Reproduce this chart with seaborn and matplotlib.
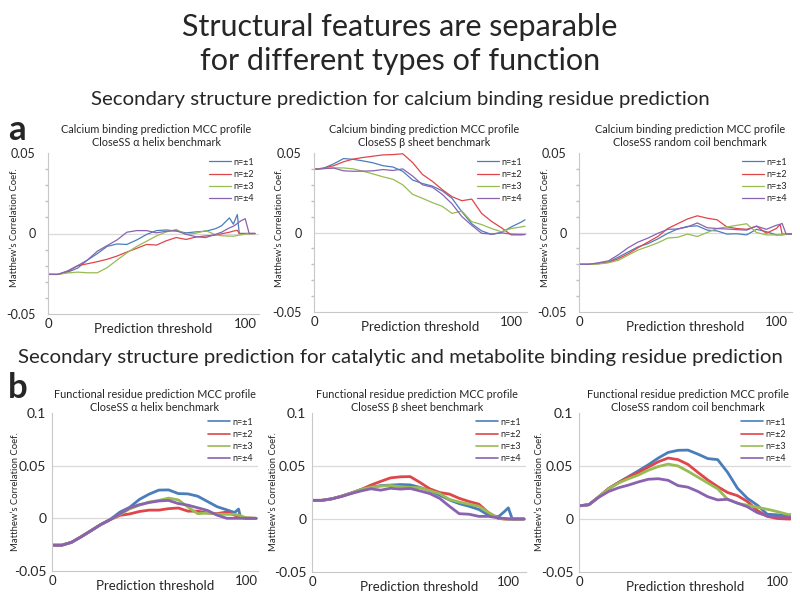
import matplotlib
matplotlib.use("Agg")
import matplotlib.pyplot as plt
import numpy as np
import pandas as pd
import seaborn as sns

sns.set_theme(style="white")
plt.rcParams["font.family"] = ["Lato", "DejaVu Sans"]

SERIES = ["n=±1", "n=±2", "n=±3", "n=±4"]
COLORS = ["#4a7ebb", "#e0454a", "#98bb52", "#8a62b0"]

# ---- row a: calcium binding ----
A1_X = [0, 5, 10, 15, 20, 25, 30, 35, 40, 45, 50, 55, 60, 65, 70, 75, 80, 85, 88, 92, 94, 96, 97, 98, 100, 102, 105]
A1_N1 = [-0.0254, -0.0254, -0.0240, -0.0215, -0.0165, -0.0125, -0.0080, -0.0065, -0.0068, -0.0040, -0.0006, 0.0018, 0.0022,
         0.0015, 0.0004, 0.0010, 0.0014, 0.0030, 0.0048, 0.0097, 0.0058, 0.0118, 0.0, 0.0, 0.0, 0.0, 0.0]
A1_N2 = [-0.0254, -0.0254, -0.0235, -0.0200, -0.0188, -0.0175, -0.0160, -0.0140, -0.0115, -0.0092, -0.0068, -0.0072, -0.0045,
         -0.0025, -0.0037, -0.0022, -0.0015, -0.0010, -0.0002, 0.0008, 0.0015, 0.0020, 0.0, 0.0, 0.0, 0.0, 0.0]
A1_N3 = [-0.0254, -0.0254, -0.0245, -0.0240, -0.0244, -0.0244, -0.0212, -0.0165, -0.0120, -0.0080, -0.0048, -0.0015, 0.0010,
         0.0025, -0.0005, 0.0002, 0.0018, -0.0008, -0.0014, -0.0016, -0.0017, -0.0012, -0.0010, -0.0008, -0.0004, -0.0002, 0.0]
A1_N4 = [-0.0254, -0.0254, -0.0232, -0.0200, -0.0165, -0.0110, -0.0075, -0.0040, 0.0008, 0.0018, 0.0018, 0.0004, 0.0014,
         0.0018, -0.0005, -0.0020, -0.0025, -0.0005, 0.0008, 0.0035, 0.0045, 0.0062, 0.0072, 0.0080, 0.0092, 0.0, 0.0]

A2_X = [0, 5, 10, 15, 20, 25, 30, 35, 40, 45, 50, 55, 60, 65, 70, 75, 80, 85, 90, 95, 100, 105, 107]
A2_N1 = [0.0397, 0.0405, 0.0432, 0.0465, 0.0460, 0.0450, 0.0438, 0.0420, 0.0412, 0.0385, 0.0330, 0.0308, 0.0292, 0.0262,
         0.0215, 0.0130, 0.0055, 0.0010, -0.0012, 0.0000, 0.0035, 0.0065, 0.0080]
A2_N2 = [0.0397, 0.0405, 0.0420, 0.0445, 0.0462, 0.0472, 0.0480, 0.0488, 0.0490, 0.0495, 0.0440, 0.0365, 0.0322, 0.0270,
         0.0225, 0.0200, 0.0210, 0.0120, 0.0070, 0.0030, -0.0015, -0.0015, -0.0013]
A2_N3 = [0.0397, 0.0402, 0.0407, 0.0406, 0.0400, 0.0385, 0.0368, 0.0350, 0.0335, 0.0300, 0.0240, 0.0215, 0.0188, 0.0165,
         0.0120, 0.0135, 0.0068, 0.0050, 0.0025, 0.0005, 0.0025, 0.0035, 0.0040]
A2_N4 = [0.0397, 0.0402, 0.0405, 0.0388, 0.0385, 0.0386, 0.0388, 0.0396, 0.0390, 0.0400, 0.0355, 0.0300, 0.0285, 0.0240,
         0.0180, 0.0100, 0.0045, -0.0005, -0.0010, -0.0002, -0.0010, -0.0012, -0.0012]

A3_X = [0, 5, 10, 15, 20, 25, 30, 35, 40, 45, 50, 55, 60, 65, 70, 75, 80, 85, 90, 95, 100, 102, 103, 105, 108]
A3_N1 = [-0.020, -0.020, -0.0195, -0.0185, -0.0155, -0.0122, -0.0090, -0.0070, -0.0040, -0.0005, 0.0022, 0.0038, 0.0042,
         0.0015, 0.0010, -0.0010, -0.0008, -0.0015, 0.0020, 0.0005, -0.0015, -0.0015, -0.0015, -0.0012, -0.0008]
A3_N2 = [-0.020, -0.020, -0.0195, -0.0188, -0.0165, -0.0133, -0.0095, -0.0060, -0.0025, 0.0025, 0.0055, 0.0085, 0.0105,
         0.0090, 0.0080, 0.0035, 0.0025, 0.0020, 0.0040, -0.0005, 0.0025, 0.0050, -0.0010, -0.0010, -0.0008]
A3_N3 = [-0.020, -0.020, -0.0198, -0.0190, -0.0175, -0.0142, -0.0110, -0.0088, -0.0065, -0.0035, -0.0030, -0.0010, -0.0025,
         0.0000, 0.0025, 0.0035, 0.0045, 0.0055, 0.0000, -0.0015, -0.0015, -0.0014, -0.0013, -0.0012, -0.0010]
A3_N4 = [-0.020, -0.020, -0.0190, -0.0178, -0.0140, -0.0095, -0.0060, -0.0035, -0.0005, 0.0020, 0.0022, 0.0035, 0.0060,
         0.0030, 0.0025, 0.0022, 0.0018, 0.0015, 0.0040, 0.0020, 0.0045, 0.0052, 0.0057, -0.0010, -0.0010]

# ---- row b: catalytic / metabolite binding ----
B1_X = [0, 5, 10, 15, 20, 25, 30, 35, 40, 45, 50, 55, 60, 65, 70, 75, 80, 85, 90, 94, 96, 97, 100, 105]
B1_N1 = [-0.0255, -0.0255, -0.0228, -0.0175, -0.0118, -0.0060, -0.0010, 0.0060, 0.0105, 0.0180, 0.0230, 0.0268, 0.0270,
         0.0235, 0.0232, 0.0210, 0.0160, 0.0110, 0.0080, 0.0055, 0.0088, 0.0010, 0.0, 0.0]
B1_N2 = [-0.0255, -0.0255, -0.0228, -0.0175, -0.0118, -0.0060, -0.0012, 0.0028, 0.0042, 0.0065, 0.0078, 0.0078, 0.0092,
         0.0098, 0.0068, 0.0068, 0.0050, 0.0045, 0.0060, 0.0030, 0.0015, 0.0010, 0.0003, 0.0]
B1_N3 = [-0.0255, -0.0255, -0.0228, -0.0175, -0.0118, -0.0060, -0.0012, 0.0038, 0.0090, 0.0125, 0.0155, 0.0170, 0.0192,
         0.0175, 0.0107, 0.0044, 0.0050, 0.0040, 0.0038, 0.0038, 0.0030, 0.0025, 0.0005, 0.0]
B1_N4 = [-0.0255, -0.0255, -0.0228, -0.0175, -0.0118, -0.0060, -0.0012, 0.0044, 0.0100, 0.0130, 0.0150, 0.0165, 0.0170,
         0.0140, 0.0125, 0.0100, 0.0075, 0.0030, 0.0, 0.0, 0.0, 0.0, 0.0, 0.0]

B2_X = [0, 5, 10, 15, 20, 25, 30, 35, 40, 45, 50, 55, 60, 65, 70, 75, 80, 85, 90, 95, 98, 100, 102, 105, 108]
B2_N1 = [0.0176, 0.0176, 0.0190, 0.0215, 0.0245, 0.0278, 0.0300, 0.0315, 0.0320, 0.0325, 0.0322, 0.0298, 0.0268, 0.0225,
         0.0180, 0.0145, 0.0120, 0.0090, 0.0035, 0.0022, 0.0070, 0.0105, 0.0, 0.0, 0.0]
B2_N2 = [0.0176, 0.0176, 0.0190, 0.0215, 0.0245, 0.0278, 0.0320, 0.0355, 0.0388, 0.0398, 0.0400, 0.0345, 0.0285, 0.0250,
         0.0235, 0.0195, 0.0165, 0.0140, 0.0058, 0.0005, 0.0, 0.0, 0.0, 0.0, 0.0]
B2_N3 = [0.0176, 0.0176, 0.0190, 0.0215, 0.0245, 0.0278, 0.0300, 0.0310, 0.0316, 0.0305, 0.0298, 0.0295, 0.0268, 0.0240,
         0.0185, 0.0160, 0.0140, 0.0120, 0.0060, 0.0008, 0.0, 0.0, 0.0, 0.0, 0.0]
B2_N4 = [0.0176, 0.0176, 0.0190, 0.0212, 0.0240, 0.0265, 0.0285, 0.0272, 0.0290, 0.0282, 0.0288, 0.0265, 0.0240, 0.0195,
         0.0120, 0.0050, 0.0045, 0.0025, 0.0025, 0.0010, 0.0005, 0.0, 0.0, 0.0, 0.0]

B3_X = [0, 5, 10, 15, 20, 25, 30, 35, 40, 45, 50, 55, 60, 65, 70, 75, 80, 85, 90, 95, 100, 105, 107]
B3_N1 = [0.0124, 0.0135, 0.0210, 0.0288, 0.0345, 0.0400, 0.0455, 0.0512, 0.0575, 0.0628, 0.0648, 0.0650, 0.0612, 0.0570,
         0.0560, 0.0440, 0.0290, 0.0195, 0.0130, 0.0045, 0.0040, 0.0030, 0.0040]
B3_N2 = [0.0124, 0.0135, 0.0210, 0.0288, 0.0345, 0.0395, 0.0440, 0.0490, 0.0540, 0.0575, 0.0560, 0.0515, 0.0440, 0.0368,
         0.0305, 0.0250, 0.0220, 0.0165, 0.0080, 0.0025, 0.0005, 0.0, 0.0]
B3_N3 = [0.0124, 0.0135, 0.0210, 0.0285, 0.0340, 0.0380, 0.0415, 0.0460, 0.0495, 0.0518, 0.0500, 0.0450, 0.0395, 0.0340,
         0.0285, 0.0185, 0.0148, 0.0130, 0.0110, 0.0092, 0.0070, 0.0045, 0.0038]
B3_N4 = [0.0124, 0.0135, 0.0205, 0.0260, 0.0295, 0.0320, 0.0350, 0.0375, 0.0380, 0.0365, 0.0315, 0.0300, 0.0260, 0.0210,
         0.0180, 0.0186, 0.0150, 0.0115, 0.0060, 0.0028, 0.0019, 0.0018, 0.0018]

TITLE = "Structural features are separable\nfor different types of function"
HEADER_A = "Secondary structure prediction for calcium binding residue prediction"
HEADER_B = "Secondary structure prediction for catalytic and metabolite binding residue prediction"
TITLES_A = ["Calcium binding prediction MCC profile\nCloseSS α helix benchmark",
            "Calcium binding prediction MCC profile\nCloseSS β sheet benchmark",
            "Calcium binding prediction MCC profile\nCloseSS random coil benchmark"]
TITLES_B = ["Functional residue prediction MCC profile\nCloseSS α helix benchmark",
            "Functional residue prediction MCC profile\nCloseSS β sheet benchmark",
            "Functional residue prediction MCC profile\nCloseSS random coil benchmark"]
YTICKS_A = [-0.05, 0, 0.05]
YTICKS_B = [-0.05, 0, 0.05, 0.1]
YLABEL = "Matthew’s Correlation Coef."
XLABEL = "Prediction threshold"

W, H = 800, 594
fig = plt.figure(figsize=(W / 100, H / 100), dpi=100)


def px_axes(left, top, right, bottom):
    return fig.add_axes([left / W, 1 - bottom / H, (right - left) / W, (bottom - top) / H])


def fig_text(x, y, s, **kw):
    fig.text(x / W, 1 - y / H, s, **kw)


def draw_panel(box, x, ys, xmax, yticks, row_b, title, tcx, tcy, ylx, yly):
    ax = px_axes(*box)
    df = pd.concat([pd.DataFrame({"threshold": x, "mcc": y, "n": name}) for name, y in zip(SERIES, ys)])
    sns.lineplot(data=df, x="threshold", y="mcc", hue="n", palette=COLORS, estimator=None, sort=False,
                 linewidth=2.0 if row_b else 0.9, ax=ax)
    ax.set_xlim(0, xmax)
    ax.set_ylim(yticks[0], yticks[-1])
    ax.set_yticks(yticks)
    ax.set_yticklabels(["0" if t == 0 else f"{t:g}" for t in yticks], fontsize=10 if row_b else 9)
    ax.set_xticks([0, 100])
    ax.set_xticklabels(["0", "100"], fontsize=9.5)
    ax.tick_params(axis="x", length=0, pad=3)
    ax.tick_params(axis="y", length=3, color="#bfbfbf", pad=1 if row_b else 6)
    if not row_b:
        ax.set_yticks(np.arange(-0.05, 0.051, 0.01), minor=True)
        ax.tick_params(axis="y", which="minor", length=2, color="#bfbfbf", left=True)
    for t in yticks[1:-1]:
        ax.axhline(t, color="#d9d9d9", linewidth=0.9, zorder=0)
    for side in ["top", "right"]:
        ax.spines[side].set_visible(False)
    for side in ["left", "bottom"]:
        ax.spines[side].set_color("#c8c8c8")
        ax.spines[side].set_linewidth(0.8)
    ax.set_xlabel("")
    ax.set_ylabel("")
    ax.annotate(XLABEL, xy=(0.5, 0), xycoords="axes fraction", xytext=(0, -11), textcoords="offset points",
                ha="center", va="center", fontsize=9.5)
    ax.legend(loc="upper right", bbox_to_anchor=(1.0, 1.0), frameon=False, fontsize=6.5, handlelength=2.4,
              handletextpad=0.3, labelspacing=0.35, borderaxespad=0.1)
    for line in ax.get_legend().get_lines():
        line.set_linewidth(1.2 if row_b else 0.9)
    fig_text(tcx, tcy, title, ha="center", va="center", fontsize=7.8, linespacing=1.2)
    fig_text(ylx, yly, YLABEL, ha="center", va="center", rotation=90, fontsize=6.8)
    return ax


fig_text(400, 44, TITLE, ha="center", va="center", fontsize=22, linespacing=1.3)
fig_text(400, 100, HEADER_A, ha="center", va="center", fontsize=14.7)
fig_text(400, 357, HEADER_B, ha="center", va="center", fontsize=14.7)
fig_text(8, 140, "a", ha="left", va="baseline", fontsize=25, fontweight="bold")
fig_text(8, 398, "b", ha="left", va="baseline", fontsize=25, fontweight="bold")

draw_panel((48, 153, 259, 314), A1_X, [A1_N1, A1_N2, A1_N3, A1_N4], 107, YTICKS_A, False, TITLES_A[0], 156, 136, 15, 228)
draw_panel((314, 153, 527, 312), A2_X, [A2_N1, A2_N2, A2_N3, A2_N4], 108, YTICKS_A, False, TITLES_A[1], 424, 136, 280, 228)
draw_panel((579, 153, 792, 312), A3_X, [A3_N1, A3_N2, A3_N3, A3_N4], 108, YTICKS_A, False, TITLES_A[2], 690, 136, 545, 228)
draw_panel((52, 413, 258, 571), B1_X, [B1_N1, B1_N2, B1_N3, B1_N4], 106, YTICKS_B, True, TITLES_B[0], 155, 401, 16, 492)
draw_panel((312, 413, 526, 572), B2_X, [B2_N1, B2_N2, B2_N3, B2_N4], 109, YTICKS_B, True, TITLES_B[1], 417, 401, 273, 492)
draw_panel((579, 413, 791, 572), B3_X, [B3_N1, B3_N2, B3_N3, B3_N4], 107, YTICKS_B, True, TITLES_B[2], 688, 401, 540, 492)

fig.savefig("out.png", dpi=100)
plt.close(fig)
